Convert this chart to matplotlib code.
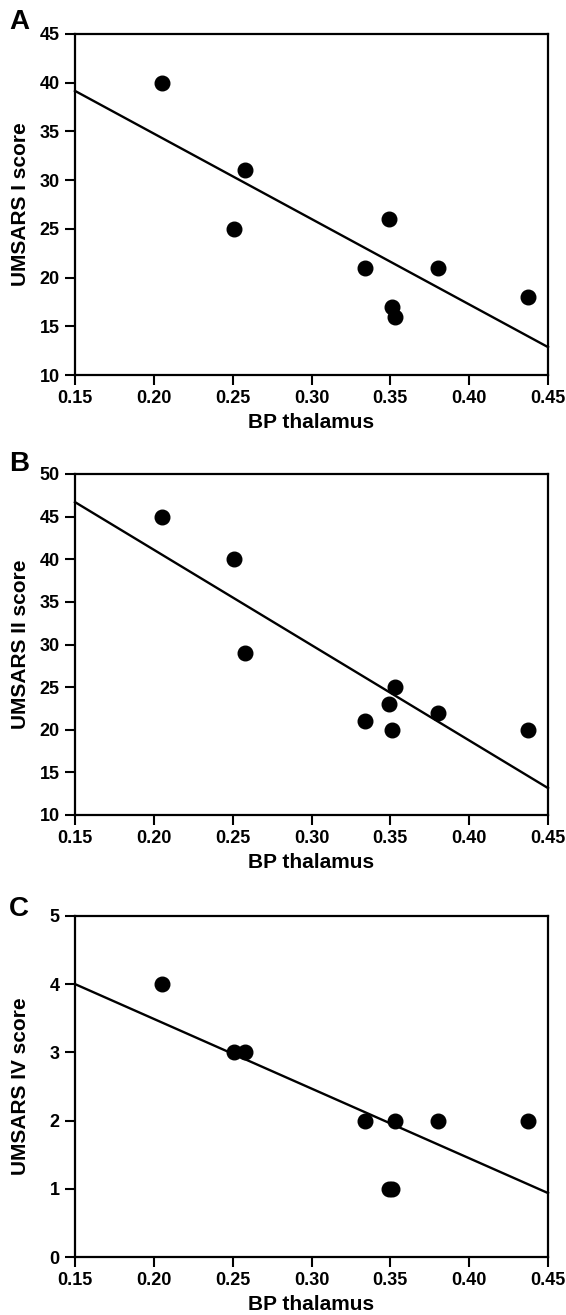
import matplotlib
matplotlib.use("Agg")
import matplotlib.pyplot as plt
import numpy as np

plt.rcParams['font.family'] = ['Liberation Sans', 'DejaVu Sans']
plt.rcParams['font.weight'] = 'bold'

# BP thalamus values (same subjects in each panel)
bp_a = [0.205, 0.258, 0.251, 0.349, 0.334, 0.380, 0.351, 0.353, 0.437]
umsars_1 = [40, 31, 25, 26, 21, 21, 17, 16, 18]

bp_b = [0.205, 0.251, 0.258, 0.334, 0.349, 0.351, 0.353, 0.380, 0.437]
umsars_2 = [45, 40, 29, 21, 23, 20, 25, 22, 20]

bp_c = [0.205, 0.251, 0.258, 0.334, 0.349, 0.351, 0.353, 0.380, 0.437]
umsars_4 = [4, 3, 3, 2, 1, 1, 2, 2, 2]

x_ticks = [0.15, 0.20, 0.25, 0.30, 0.35, 0.40, 0.45]

panels = [
    ("A", bp_a, umsars_1, "UMSARS I score", (10, 45), np.arange(10, 46, 5)),
    ("B", bp_b, umsars_2, "UMSARS II score", (10, 50), np.arange(10, 51, 5)),
    ("C", bp_c, umsars_4, "UMSARS IV score", (0, 5), np.arange(0, 6, 1)),
]

W, H = 566, 1315
fig = plt.figure(figsize=(W / 100, H / 100), dpi=100)

# axes boxes in pixels: left, right, top, bottom
left_px, right_px = 75, 548
tops = [34, 474, 916]
bottoms = [375, 815, 1257]
letter_y = [22, 464, 909]

for i, (letter, x, y, ylab, ylim, yticks) in enumerate(panels):
    ax = fig.add_axes([left_px / W, 1 - bottoms[i] / H,
                       (right_px - left_px) / W, (bottoms[i] - tops[i]) / H])
    ax.plot(x, y, 'o', color='black', markersize=10.5)

    # least squares line across the whole x range
    slope, icpt = np.polyfit(x, y, 1)
    xl = np.array([0.15, 0.45])
    ax.plot(xl, slope * xl + icpt, color='black', linewidth=1.7, clip_on=False)

    ax.set_xlim(0.15, 0.45)
    ax.set_ylim(*ylim)
    ax.set_xticks(x_ticks)
    ax.set_xticklabels(["%.2f" % t for t in x_ticks])
    ax.set_yticks(yticks)

    for s in ax.spines.values():
        s.set_linewidth(1.6)
    ax.tick_params(direction='out', length=7, width=1.5, labelsize=13, pad=4)
    for lab in ax.get_xticklabels() + ax.get_yticklabels():
        lab.set_fontweight('bold')

    ax.set_xlabel("BP thalamus", fontsize=15, fontweight='bold', labelpad=4)
    ax.set_ylabel(ylab, fontsize=15, fontweight='bold')
    ax.yaxis.set_label_coords(-0.095, 0.5)

    fig.text(19 / W, 1 - letter_y[i] / H, letter, fontsize=20, fontweight='bold',
             ha='center', va='center')

fig.savefig("out.png", dpi=100)
